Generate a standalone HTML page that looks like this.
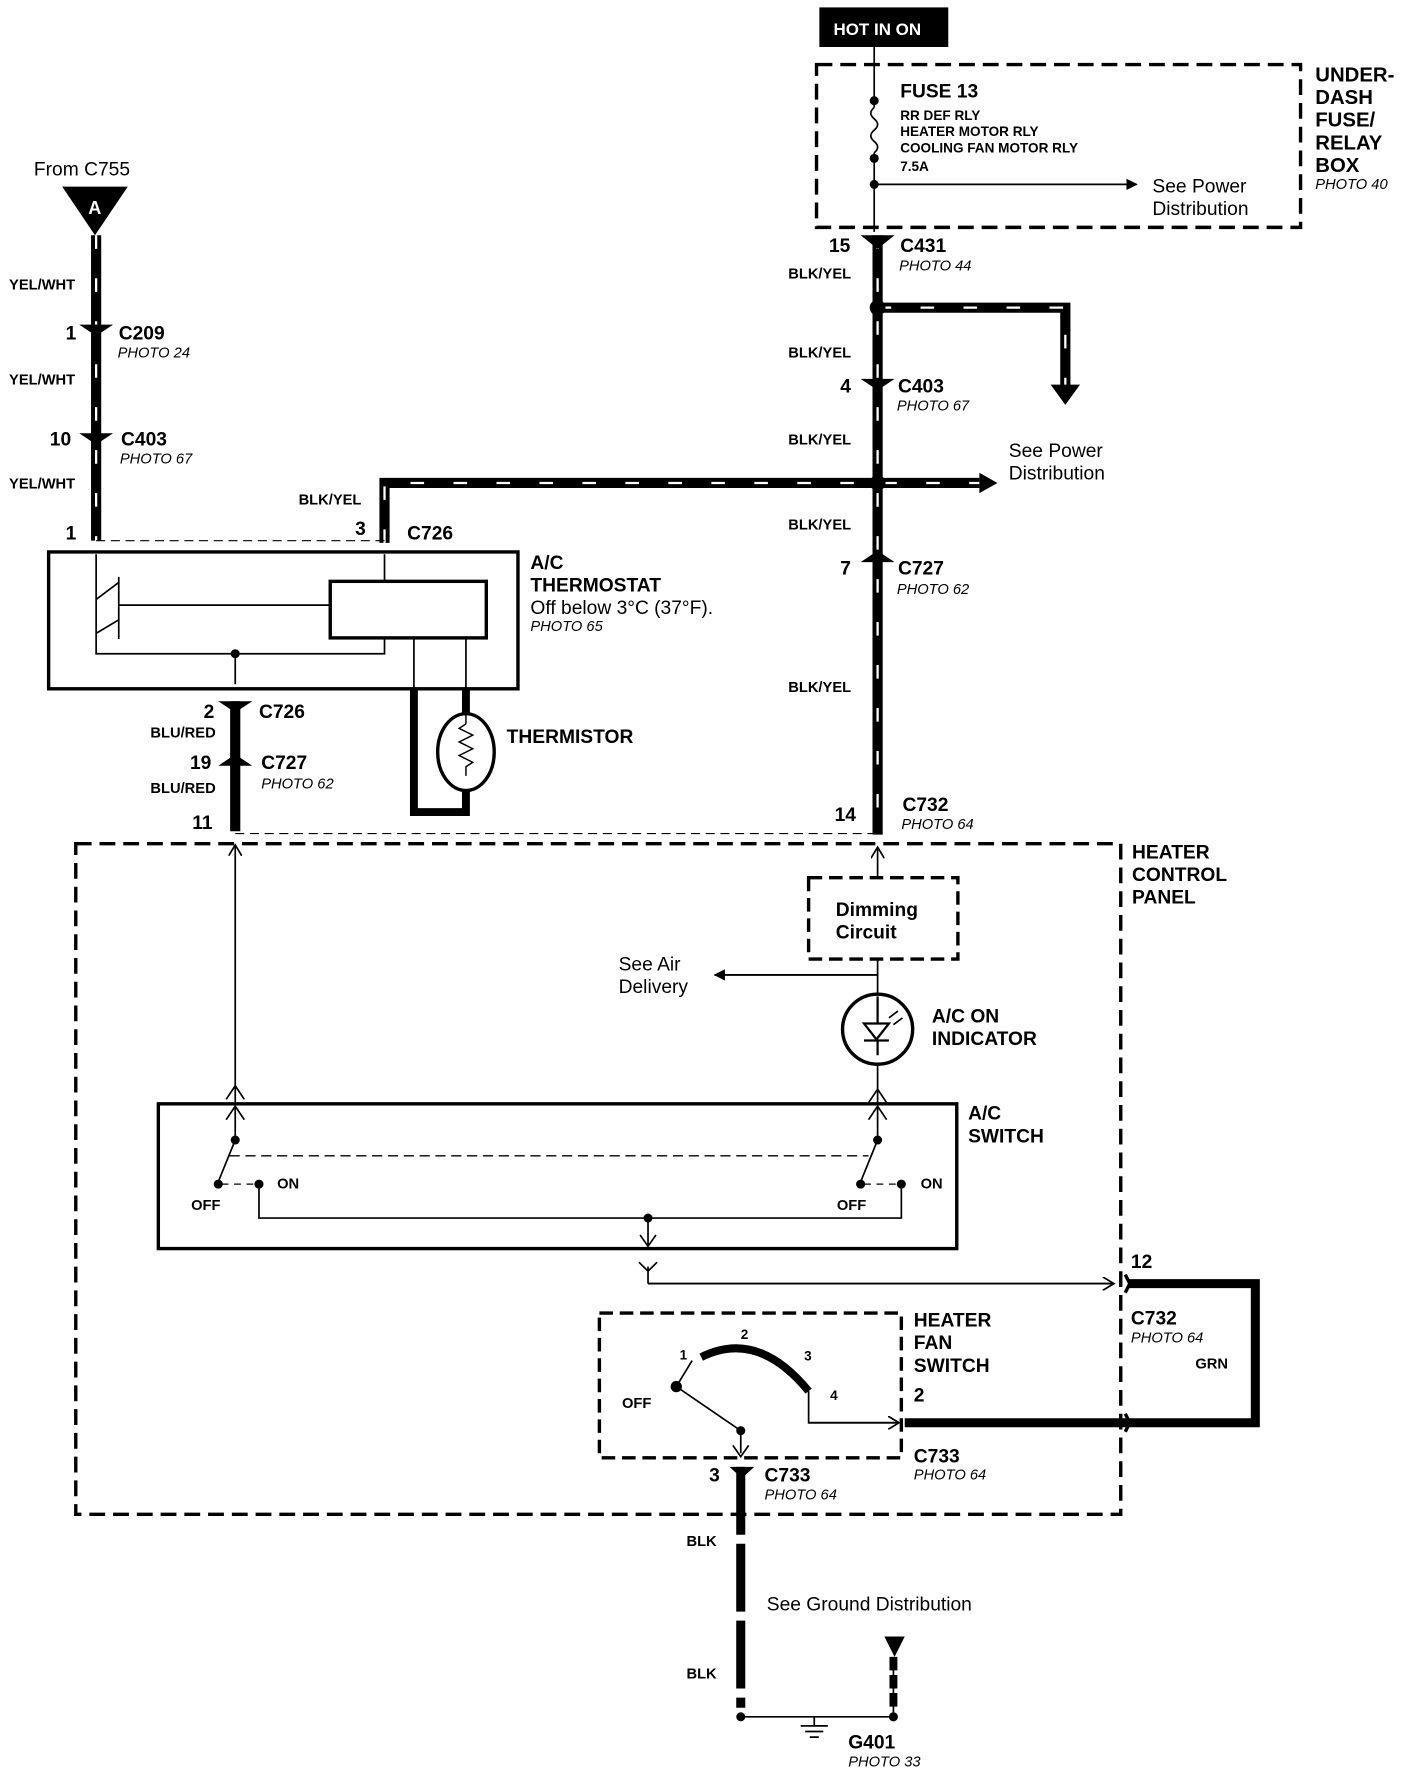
<!DOCTYPE html>
<html><head><meta charset="utf-8"><style>
html,body{margin:0;padding:0;background:#fff;}
svg{display:block;font-family:"Liberation Sans",sans-serif;}
.b{font-weight:bold;}
.i{font-style:italic;}
</style></head><body>
<svg width="1408" height="1770" viewBox="0 0 1245 1565" xmlns="http://www.w3.org/2000/svg">
<defs>
<marker id="ah" markerWidth="10" markerHeight="10" refX="9" refY="5" orient="auto" markerUnits="userSpaceOnUse"><path d="M0,0 L10,5 L0,10 z" fill="#000"/></marker>
<marker id="ch" markerWidth="12" markerHeight="12" refX="10" refY="6" orient="auto" markerUnits="userSpaceOnUse"><path d="M0,0 L10,6 L0,12" fill="none" stroke="#000" stroke-width="1.5"/></marker>
</defs>
<g fill="none" stroke="#000">
<!-- HOT IN ON -->
<rect x="725" y="7" width="113" height="34" fill="#000"/>
<!-- fuse box -->
<rect x="722" y="57" width="428" height="144" stroke-width="3" stroke-dasharray="14 7"/>
<path d="M773 41 V95 M773 135 V205" stroke-width="1.5"/>
<path d="M773 95 q-6 5 0 10 q6 5 0 10 q-6 5 0 10 q6 5 0 10" stroke-width="1.5"/>
<path d="M773 163 H1005" stroke-width="1.5" marker-end="url(#ah)"/>
<!-- right main wire -->
<path d="M776 208 V738" stroke-width="9"/>
<path d="M776 208 V738" stroke="#fff" stroke-width="2" stroke-dasharray="12 26"/>
<path d="M776 272 H942 V345" stroke-width="9"/>
<path d="M776 272 H942 V345" stroke="#fff" stroke-width="2" stroke-dasharray="12 26"/>
<path d="M340 480 V427 H866" stroke-width="9"/>
<path d="M340 480 V427 H866" stroke="#fff" stroke-width="2" stroke-dasharray="12 26"/>
<!-- left wire -->
<path d="M85 208 V478" stroke-width="9"/>
<path d="M85 208 V478" stroke="#fff" stroke-width="2" stroke-dasharray="12 26"/>
<path d="M85 478 H340" stroke-width="1" stroke-dasharray="8 5"/>
<!-- thermostat -->
<rect x="43" y="488" width="415" height="121" stroke-width="3"/>
<rect x="292" y="514" width="138" height="50" stroke-width="3"/>
<path d="M85 490 V578 H340 V564 M85 530 L105 515 M85 560 L105 548 M105 510 V565 M105 535 H292 M340 490 V514 M208 578 V605 M366 564 V612 M412 564 V612" stroke-width="1.5"/>
<path d="M366 610 V718 H412 V610" stroke-width="7"/>
<ellipse cx="412" cy="665" rx="25" ry="34" stroke-width="3" fill="#fff"/>
<path d="M412 640 l-6 4 l12 6 l-12 6 l12 6 l-12 6 l12 6 l-6 4 v8 M412 640 v-8" stroke-width="1.3"/>
<path d="M208 620 V735" stroke-width="9"/>
<path d="M208 737 H776" stroke-width="1" stroke-dasharray="8 5"/>
<!-- heater control panel -->
<rect x="67" y="746" width="924" height="593" stroke-width="3" stroke-dasharray="14 7"/>
<path d="M208 975 V747" stroke-width="1.5" marker-end="url(#ch)"/>
<path d="M208 960 l-8 12 M208 960 l8 12" stroke-width="1.5"/>
<rect x="715" y="776" width="132" height="72" stroke-width="3" stroke-dasharray="12 6"/>
<path d="M776 776 V749" stroke-width="1.5" marker-end="url(#ch)"/>
<path d="M776 848 V879 M776 941 V975 M776 862 H632" stroke-width="1.5"/>
<path d="M776 862 H632" stroke-width="1.5" marker-end="url(#ah)"/>
<circle cx="776" cy="910" r="31" stroke-width="3"/>
<path d="M764 905 h22 l-11 14 z M764 920 h22 M776 919 v14 M776 881 v24" stroke-width="2"/>
<path d="M786 900 l8 -6 M790 906 l8 -6" stroke-width="1.5"/>
<path d="M768 975 l8 -12 l8 12" stroke-width="1.5"/>
<!-- AC switch -->
<rect x="140" y="976" width="706" height="128" stroke-width="3"/>
<path d="M208 978 V1008 L193 1045 M208 1008 V1008 M168 1023 V1023" stroke-width="1.5"/>
<path d="M200 990 l8 -12 l8 12 M768 990 l8 -12 l8 12" stroke-width="1.5"/>
<path d="M776 978 V1008 L761 1045" stroke-width="1.5"/>
<path d="M203 1022 H768" stroke-width="1.2" stroke-dasharray="9 5"/>
<path d="M196 1047 H228 M764 1047 H796" stroke-width="1.2" stroke-dasharray="6 5"/>
<path d="M229 1047 V1077 H797 V1047 M573 1077 V1102" stroke-width="1.5"/>
<path d="M566 1092 l7 10 l7 -10" stroke-width="1.5"/>
<path d="M573 1135 V1120 M565 1116 l8 8 l8 -8 M573 1135 H985" stroke-width="1.5"/>
<path d="M573 1135 H985" stroke-width="1.5" marker-end="url(#ch)"/>
<path d="M995 1127 l4 8 l-4 8 M995 1250 l4 8 l-4 8" stroke-width="3"/>
<path d="M998 1135 H1110 V1258 H800" stroke-width="8"/>
<!-- heater fan switch -->
<rect x="530" y="1161" width="267" height="128" stroke-width="3" stroke-dasharray="12 6"/>
<path d="M620 1200 Q670 1175 715 1230" stroke-width="7"/>
<path d="M598 1226 L612 1203 M598 1226 L655 1265 V1285 M715 1230 V1258 H795" stroke-width="1.5"/>
<path d="M715 1258 H795" stroke-width="1.5" marker-end="url(#ch)"/>
<path d="M648 1278 l7 10 l7 -10" stroke-width="1.5"/>
<!-- bottom -->
<path d="M655 1297 V1510" stroke-width="8" stroke-dasharray="60 8"/>
<path d="M655 1518 H790 M790 1515 V1465" stroke-width="1.5"/>
<path d="M790 1465 V1510" stroke-width="7" stroke-dasharray="12 4"/>
<path d="M720 1518 V1526 M708 1526 H732 M712 1531 H728 M716 1536 H724" stroke-width="1.5"/>
</g>
<g fill="#000">
<polygon points="55,165 113,165 84,208"/>
<polygon points="782,1447 800,1447 791,1465"/>
<polygon points="929,340 955,340 942,358"/>
<polygon points="866,418 882,427 866,436"/>
<circle cx="773" cy="89" r="4"/><circle cx="773" cy="140" r="4"/><circle cx="773" cy="163" r="4"/>
<circle cx="776" cy="272" r="7"/><circle cx="776" cy="427" r="7"/>
<circle cx="208" cy="578" r="4"/><circle cx="573" cy="1077" r="4"/>
<circle cx="208" cy="1008" r="4"/><circle cx="193" cy="1047" r="4"/><circle cx="229" cy="1047" r="4"/>
<circle cx="776" cy="1008" r="4"/><circle cx="761" cy="1047" r="4"/><circle cx="797" cy="1047" r="4"/>
<circle cx="598" cy="1226" r="5"/><circle cx="655" cy="1265" r="4"/><circle cx="655" cy="1518" r="4"/><circle cx="790" cy="1518" r="4"/>
<!-- connector marks -->
<path d="M70 287 h30 l-15 10 z M70 383 h30 l-15 10 z M761 208 h30 l-15 12 z M761 335 h30 l-15 10 z M761 497 l15 -10 l15 10 z M193 620 h30 l-15 10 z M193 677 l15 -10 l15 10 z M645 1297 h22 l-11 10 z"/>
</g>
<g font-size="17">
<text x="737" y="31" fill="#fff" class="b" font-size="15">HOT IN ON</text>
<text x="796" y="86" class="b">FUSE 13</text>
<text x="796" y="106" class="b" font-size="12">RR DEF RLY</text>
<text x="796" y="120" class="b" font-size="12">HEATER MOTOR RLY</text>
<text x="796" y="135" class="b" font-size="12">COOLING FAN MOTOR RLY</text>
<text x="796" y="151" class="b" font-size="12">7.5A</text>
<text x="1019" y="170">See Power</text><text x="1019" y="190">Distribution</text>
<text x="1163" y="72" class="b" font-size="18">UNDER-</text>
<text x="1163" y="92" class="b" font-size="18">DASH</text>
<text x="1163" y="112" class="b" font-size="18">FUSE/</text>
<text x="1163" y="132" class="b" font-size="18">RELAY</text>
<text x="1163" y="152" class="b" font-size="18">BOX</text>
<text x="1163" y="167" class="i" font-size="13">PHOTO 40</text>
<text x="733" y="223" class="b">15</text><text x="796" y="223" class="b">C431</text><text x="795" y="239" class="i" font-size="13">PHOTO 44</text>
<text x="697" y="246" class="b" font-size="13">BLK/YEL</text>
<text x="697" y="316" class="b" font-size="13">BLK/YEL</text>
<text x="743" y="347" class="b">4</text><text x="794" y="347" class="b">C403</text><text x="793" y="363" class="i" font-size="13">PHOTO 67</text>
<text x="697" y="393" class="b" font-size="13">BLK/YEL</text>
<text x="892" y="404">See Power</text><text x="892" y="424">Distribution</text>
<text x="697" y="468" class="b" font-size="13">BLK/YEL</text>
<text x="743" y="508" class="b">7</text><text x="794" y="508" class="b">C727</text><text x="793" y="525" class="i" font-size="13">PHOTO 62</text>
<text x="697" y="612" class="b" font-size="13">BLK/YEL</text>
<text x="738" y="726" class="b">14</text><text x="798" y="717" class="b">C732</text><text x="797" y="733" class="i" font-size="13">PHOTO 64</text>
<text x="30" y="155">From C755</text>
<text x="78" y="189" fill="#fff" class="b" font-size="16">A</text>
<text x="8" y="256" class="b" font-size="13">YEL/WHT</text>
<text x="58" y="300" class="b">1</text><text x="105" y="300" class="b">C209</text><text x="104" y="316" class="i" font-size="13">PHOTO 24</text>
<text x="8" y="340" class="b" font-size="13">YEL/WHT</text>
<text x="44" y="394" class="b">10</text><text x="107" y="394" class="b">C403</text><text x="106" y="410" class="i" font-size="13">PHOTO 67</text>
<text x="8" y="432" class="b" font-size="13">YEL/WHT</text>
<text x="264" y="446" class="b" font-size="13">BLK/YEL</text>
<text x="58" y="477" class="b">1</text><text x="314" y="473" class="b">3</text><text x="360" y="477" class="b">C726</text>
<text x="469" y="503" class="b">A/C</text><text x="469" y="523" class="b">THERMOSTAT</text>
<text x="469" y="543">Off below 3°C (37°F).</text><text x="469" y="558" class="i" font-size="13">PHOTO 65</text>
<text x="180" y="635" class="b">2</text><text x="229" y="635" class="b">C726</text>
<text x="133" y="652" class="b" font-size="13">BLU/RED</text>
<text x="448" y="657" class="b">THERMISTOR</text>
<text x="168" y="680" class="b">19</text><text x="231" y="680" class="b">C727</text><text x="231" y="697" class="i" font-size="13">PHOTO 62</text>
<text x="133" y="701" class="b" font-size="13">BLU/RED</text>
<text x="170" y="733" class="b">11</text>
<text x="1001" y="759" class="b">HEATER</text><text x="1001" y="779" class="b">CONTROL</text><text x="1001" y="799" class="b">PANEL</text>
<text x="739" y="810" class="b">Dimming</text><text x="739" y="830" class="b">Circuit</text>
<text x="547" y="858">See Air</text><text x="547" y="878">Delivery</text>
<text x="824" y="904" class="b">A/C ON</text><text x="824" y="924" class="b">INDICATOR</text>
<text x="856" y="990" class="b">A/C</text><text x="856" y="1010" class="b">SWITCH</text>
<text x="245" y="1051" class="b" font-size="13">ON</text><text x="169" y="1070" class="b" font-size="13">OFF</text>
<text x="814" y="1051" class="b" font-size="13">ON</text><text x="740" y="1070" class="b" font-size="13">OFF</text>
<text x="1000" y="1121" class="b">12</text>
<text x="1000" y="1171" class="b">C732</text><text x="1000" y="1187" class="i" font-size="13">PHOTO 64</text>
<text x="1057" y="1210" class="b" font-size="13">GRN</text>
<text x="808" y="1173" class="b">HEATER</text><text x="808" y="1193" class="b">FAN</text><text x="808" y="1213" class="b">SWITCH</text>
<text x="808" y="1239" class="b">2</text>
<text x="808" y="1293" class="b">C733</text><text x="808" y="1308" class="i" font-size="13">PHOTO 64</text>
<text x="601" y="1202" class="b" font-size="12">1</text><text x="655" y="1184" class="b" font-size="12">2</text>
<text x="711" y="1203" class="b" font-size="12">3</text><text x="734" y="1238" class="b" font-size="12">4</text>
<text x="550" y="1245" class="b" font-size="13">OFF</text>
<text x="627" y="1310" class="b">3</text><text x="676" y="1310" class="b">C733</text><text x="676" y="1326" class="i" font-size="13">PHOTO 64</text>
<text x="607" y="1367" class="b" font-size="13">BLK</text>
<text x="678" y="1424">See Ground Distribution</text>
<text x="607" y="1484" class="b" font-size="13">BLK</text>
<text x="750" y="1546" class="b">G401</text><text x="750" y="1562" class="i" font-size="13">PHOTO 33</text>
</g>
</svg>
</body></html>
